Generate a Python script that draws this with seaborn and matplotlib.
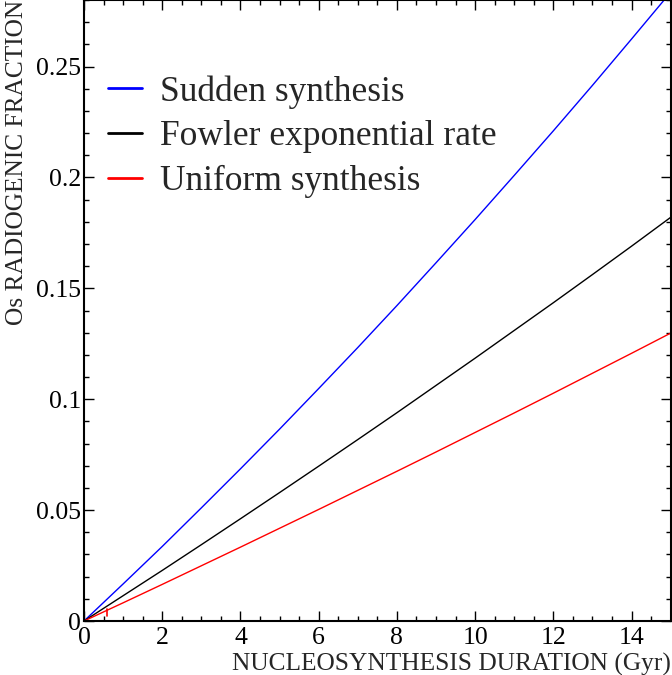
import matplotlib
matplotlib.use("Agg")
import matplotlib.pyplot as plt
import seaborn as sns
import pandas as pd
from matplotlib.ticker import MultipleLocator

duration = [0, 1, 2, 3, 4, 5, 6, 7, 8, 9, 10, 11, 12, 13, 14, 15]
sudden = [0.0, 0.0167, 0.0336, 0.0510, 0.0686, 0.0865, 0.1048, 0.1233, 0.1422,
          0.1615, 0.1810, 0.2009, 0.2210, 0.2415, 0.2624, 0.2835]
fowler = [0.0, 0.0114, 0.0228, 0.0344, 0.0461, 0.0579, 0.0698, 0.0818, 0.0939,
          0.1062, 0.1185, 0.1310, 0.1435, 0.1562, 0.1690, 0.1820]
uniform = [0.0, 0.0082, 0.0165, 0.0249, 0.0333, 0.0418, 0.0503, 0.0589, 0.0675,
           0.0762, 0.0850, 0.0938, 0.1027, 0.1117, 0.1207, 0.1298]
series_names = ["Sudden synthesis", "Fowler exponential rate", "Uniform synthesis"]
series_colors = ["#0000ff", "#000000", "#ff0000"]
red_mark_x = [0.58, 0.58]
red_mark_y = [0.0023, 0.0054]

rows = []
for name, vals in zip(series_names, [sudden, fowler, uniform]):
    for x, y in zip(duration, vals):
        rows.append({"duration": x, "fraction": y, "model": name})
df = pd.DataFrame(rows)

sns.set_theme(style="ticks")
plt.rcParams["font.family"] = ["Liberation Serif", "DejaVu Serif"]

fig = plt.figure(figsize=(6.72, 6.75), dpi=100)
ax = fig.add_axes([0.125, 0.08, 0.873, 0.92])

sns.lineplot(data=df, x="duration", y="fraction", hue="model",
             hue_order=series_names, palette=series_colors, linewidth=1.0,
             ax=ax, legend=True)
ax.plot(red_mark_x, red_mark_y, color="#ff0000", lw=1.2)

ax.set_xlim(0, 15)
ax.set_ylim(0, 0.28)
ax.xaxis.set_minor_locator(MultipleLocator(0.5))
ax.yaxis.set_minor_locator(MultipleLocator(0.01))
ax.set_xticks([0, 2, 4, 6, 8, 10, 12, 14])
ax.set_xticklabels(["0", "2", "4", "6", "8", "10", "12", "14"])
ax.set_yticks([0, 0.05, 0.1, 0.15, 0.2, 0.25])
ax.set_yticklabels(["0", "0.05", "0.1", "0.15", "0.2", "0.25"])

ax.tick_params(which="both", direction="in", top=True, right=True,
               labelsize=18.5, width=1.0, colors="black")
ax.tick_params(which="major", length=7)
ax.tick_params(axis="x", which="major", pad=4)
ax.tick_params(axis="y", which="major", pad=2)
ax.tick_params(which="minor", length=3.5)
for s in ax.spines.values():
    s.set_linewidth(1.5)
    s.set_color("black")

ax.set_xlabel("NUCLEOSYNTHESIS DURATION (Gyr)", fontsize=18.3, loc="right", labelpad=3)
ax.set_ylabel("Os RADIOGENIC FRACTION", fontsize=18.3, loc="top", labelpad=6)

handles, labels = ax.get_legend_handles_labels()
for h in handles:
    h.set_linewidth(2.0)
ax.legend(handles, labels, loc="upper left", bbox_to_anchor=(0.017, 0.902),
          frameon=False, fontsize=25.5, handlelength=0.96, handletextpad=0.5,
          labelspacing=0.33, borderaxespad=0)

fig.savefig("out.png", dpi=100)
